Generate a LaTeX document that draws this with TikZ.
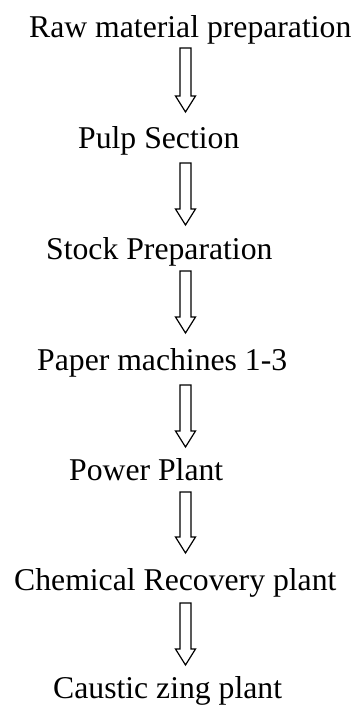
\documentclass[tikz,border=0pt]{standalone}
\usepackage{fontspec}
\setmainfont{Liberation Serif}
\usetikzlibrary{calc}
\tikzset{
  lbl/.style={inner sep=0pt, anchor=base west, font=\fontsize{31.7}{38}\selectfont},
  hollowarrow/.style={draw=black, line width=1.2pt, fill=white, line join=miter}
}
\newcommand\flowarrow[2]{%
  \draw[hollowarrow] let \p1=(#1), \p2=(#2) in
    (\x1-5.5pt,\y1) -- (\x1-5.5pt,\y2+16pt) -- (\x1-10pt,\y2+16pt) -- (\x2,\y2)
    -- (\x1+10pt,\y2+16pt) -- (\x1+5.5pt,\y2+16pt) -- (\x1+5.5pt,\y1) -- cycle;}
\begin{document}
\begin{tikzpicture}[x=1pt,y=-1pt]
\useasboundingbox[fill=white] (0,0) rectangle (355,707);
\node[lbl] (n1) at (29,37) {Raw material preparation};
\node[lbl] (n2) at (78,148) {Pulp Section};
\node[lbl] (n3) at (46,259) {Stock Preparation};
\node[lbl] (n4) at (37,370) {Paper machines 1-3};
\node[lbl] (n5) at (69,480) {Power Plant};
\node[lbl] (n6) at (14,590) {Chemical Recovery plant};
\node[lbl] (n7) at (53,698) {Caustic zing plant};
\coordinate (a1s) at (185.5,48);  \coordinate (a1e) at (185.5,112);
\coordinate (a2s) at (185.5,163); \coordinate (a2e) at (185.5,225);
\coordinate (a3s) at (185.5,271); \coordinate (a3e) at (185.5,333);
\coordinate (a4s) at (185.5,385); \coordinate (a4e) at (185.5,447);
\coordinate (a5s) at (185.5,492); \coordinate (a5e) at (185.5,553);
\coordinate (a6s) at (185.5,603); \coordinate (a6e) at (185.5,665);
\flowarrow{a1s}{a1e}
\flowarrow{a2s}{a2e}
\flowarrow{a3s}{a3e}
\flowarrow{a4s}{a4e}
\flowarrow{a5s}{a5e}
\flowarrow{a6s}{a6e}
\end{tikzpicture}
\end{document}
